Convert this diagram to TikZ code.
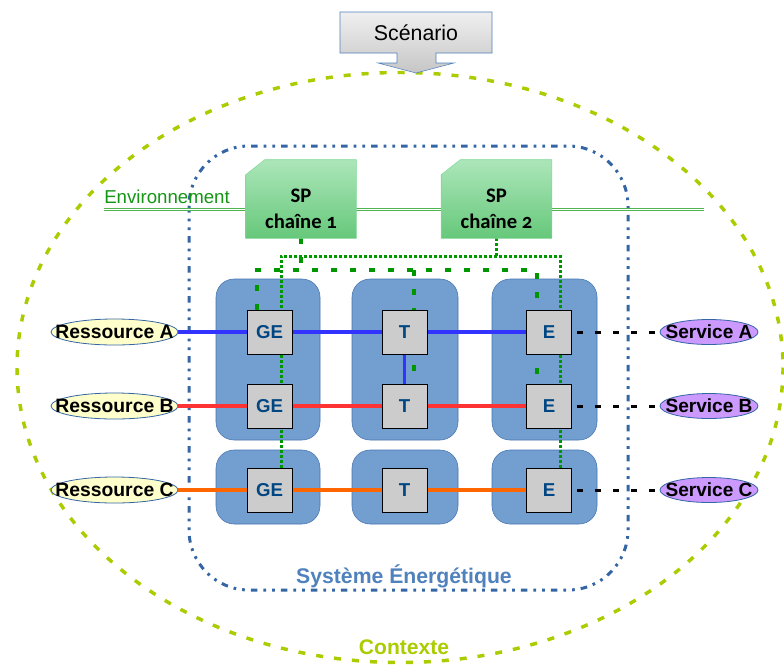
\documentclass[tikz,border=0pt]{standalone}
\usepackage{fontspec}
\setmainfont{Liberation Sans}
\newfontfamily\spfont[Numbers=OldStyle]{Carlito}
\usetikzlibrary{shapes.geometric}

\definecolor{colfill}{RGB}{114,159,207}
\definecolor{colline}{RGB}{69,114,176}
\definecolor{compgray}{RGB}{204,204,204}
\definecolor{comptext}{RGB}{0,70,130}
\definecolor{flowA}{RGB}{51,51,255}
\definecolor{flowB}{RGB}{255,51,51}
\definecolor{flowC}{RGB}{255,102,0}
\definecolor{resfill}{RGB}{255,255,204}
\definecolor{servfill}{RGB}{204,153,255}
\definecolor{sysblue}{RGB}{52,101,164}
\definecolor{systext}{RGB}{79,129,189}
\definecolor{ctxgreen}{RGB}{170,204,0}
\definecolor{envgreen}{RGB}{80,180,80}
\definecolor{envtext}{RGB}{20,150,20}
\definecolor{spline}{RGB}{0,150,0}
\definecolor{sptop}{RGB}{172,230,186}
\definecolor{spbottom}{RGB}{102,200,122}
\definecolor{spdraw}{RGB}{130,215,150}

\pgfdeclarelayer{back}
\pgfdeclarelayer{mid}
\pgfsetlayers{back,mid,main}

\newcommand{\lbl}[1]{\makebox[0pt]{#1}}

\tikzset{every picture/.style={line width=0.75pt}}
\tikzset{
  comp/.style={draw=black, fill=compgray, minimum width=33.75pt, minimum height=33pt, inner sep=0pt, text=comptext, font=\fontsize{14}{16}\selectfont\bfseries},
  res/.style={ellipse, draw=sysblue, line width=0.6pt, fill=resfill, minimum width=95.25pt, minimum height=19.5pt, inner sep=0pt, font=\fontsize{14.5}{16}\selectfont\bfseries},
  serv/.style={res, fill=servfill, minimum width=73.5pt, minimum height=18.75pt, font=\fontsize{14.3}{16}\selectfont\bfseries},
  spbox/.style={minimum width=82.5pt, minimum height=58.5pt, inner sep=0pt},
  spshape/.style={draw=spdraw, top color=sptop, bottom color=spbottom},
  sptext/.style={align=center, inner sep=0pt, font=\spfont\bfseries\fontsize{15.5pt}{19.5pt}\selectfont},
  colbox/.style={draw=colline, fill=colfill, rounded corners=13.5pt},
  flowA/.style={draw=flowA, line width=2.5pt},
  flowB/.style={draw=flowB, line width=2.5pt},
  flowC/.style={draw=flowC, line width=2.5pt},
  servline/.style={draw=black, line width=2.25pt, dash pattern=on 4.5pt off 9pt, dash phase=-4pt},
  spdot/.style={draw=spline, line width=2.25pt, dash pattern=on 2.25pt off 1.5pt},
  spdash/.style={draw=spline, line width=2.5pt, dash pattern=on 4.5pt off 9.75pt},
  sysline/.style={draw=sysblue, line width=2.25pt, dash pattern=on 5pt off 4.5pt on 2pt off 4.5pt on 2pt off 4.5pt},
  ctxline/.style={draw=ctxgreen, line width=2.6pt, dash pattern=on 5.25pt off 8.25pt},
  envline/.style={draw=envgreen, double=white, double distance=1.2pt, line width=0.6pt},
}

\begin{document}
\begin{tikzpicture}[x=0.75pt,y=0.75pt,yscale=-1,xscale=1]
\useasboundingbox (0,0) rectangle (784,664);

\begin{pgfonlayer}{back}
%Ellipse [Contexte]
\draw [ctxline] (400,367.5) ellipse [x radius=383, y radius=295];
%Rounded Rect [Systeme]
\draw [sysline, rounded corners=45pt] (189,146) rectangle (628,590);
%Double Line [Environnement]
\draw [envline] (104,209.5) -- (704,209.5);
%Rounded Rect [colonnes]
\foreach \xa/\xb in {216/320, 352/458, 492/597}{
  \draw [colbox] (\xa,279) rectangle (\xb,440);
  \draw [colbox] (\xa,450) rectangle (\xb,524);
}
\end{pgfonlayer}

%Shape: Scenario
\draw [draw=systext, top color=gray!12, bottom color=gray!45] (340,12) -- (492,12) -- (492,53) -- (436,53) -- (436,63) -- (454,63) -- (416,73) -- (378,63) -- (397,63) -- (397,53) -- (340,53) -- cycle;
% Text Node
\node [inner sep=0pt, font=\fontsize{16}{18}\selectfont] (scen) at (416,33) {Scénario};

%Shape: SP
\node [spbox] (sp1) at (301,199) {};
\node [spbox] (sp2) at (496.5,199) {};
\foreach \s in {sp1,sp2}
  \draw [spshape] (\s.south west) -- (\s.south east) -- (\s.north east) -- ([xshift=14.25pt]\s.north west) -- ([yshift=11.25pt]\s.north west) -- cycle;
% Text Node
\node [sptext] (sp1txt) at (301,208.5) {SP\\chaîne 1};
\node [sptext] (sp2txt) at (496.5,208.5) {SP\\chaîne 2};
% Text Node
\node [anchor=base west, inner sep=0pt, text=envtext, font=\fontsize{14}{16}\selectfont] (envtxt) at (104,203) {Environnement};

%Components
\foreach \r/\y in {a/332, b/406, c/490}{
  \node [comp] (GE\r) at (269.5,\y) {GE};
  \node [comp] (T\r) at (404.5,\y) {T};
  \node [comp] (E\r) at (549,\y) {E};
}
%Ressources and services
\foreach \r/\R/\y in {a/A/332, b/B/406, c/C/490}{
  \node [res] (res\r) at (114.5,\y) {\lbl{Ressource \R}};
  \node [serv] (serv\r) at (709,\y) {\lbl{Service \R}};
}

\coordinate (dotL) at (281,256);
\coordinate (dotR) at (560,256);
\coordinate (dashL) at (257,270);
\coordinate (dashM) at (414,270);
\coordinate (dashR) at (537,270);

\begin{pgfonlayer}{mid}
%Flows
\draw [flowA] (resa.east) -- (Ea.west);
\draw [flowA] (Ta) -- (Tb);
\draw [flowB] (resb.east) -- (Eb.west);
\draw [flowC] (resc.east) -- (Ec.west);
\foreach \r in {a,b,c}
  \draw [servline] (E\r.east) -- (serv\r.west);
%SP links
\draw [spdot] (sp2.south) -- (sp2.south |- dotL);
\draw [spdot] (dotL |- GEc.north) -- (dotL) -- (dotR) -- (dotR |- Ec.north);
\draw [spdash] (sp1.south) -- (sp1.south |- dashL);
\draw [spdash] (dashL |- GEa.north) -- (dashL) -- (dashR) -- (dashR |- Eb.north);
\draw [spdash] (dashM) -- (dashM |- Tb.north);
\end{pgfonlayer}

% Text Node
\node [anchor=base, inner sep=0pt, text=systext, font=\fontsize{15.9}{18}\selectfont\bfseries] (systxt) at (404,583) {Système Énergétique};
% Text Node
\node [anchor=base, inner sep=0pt, text=ctxgreen, font=\fontsize{15.8}{18}\selectfont\bfseries] (ctxtxt) at (404,654) {Contexte};

\end{tikzpicture}
\end{document}
